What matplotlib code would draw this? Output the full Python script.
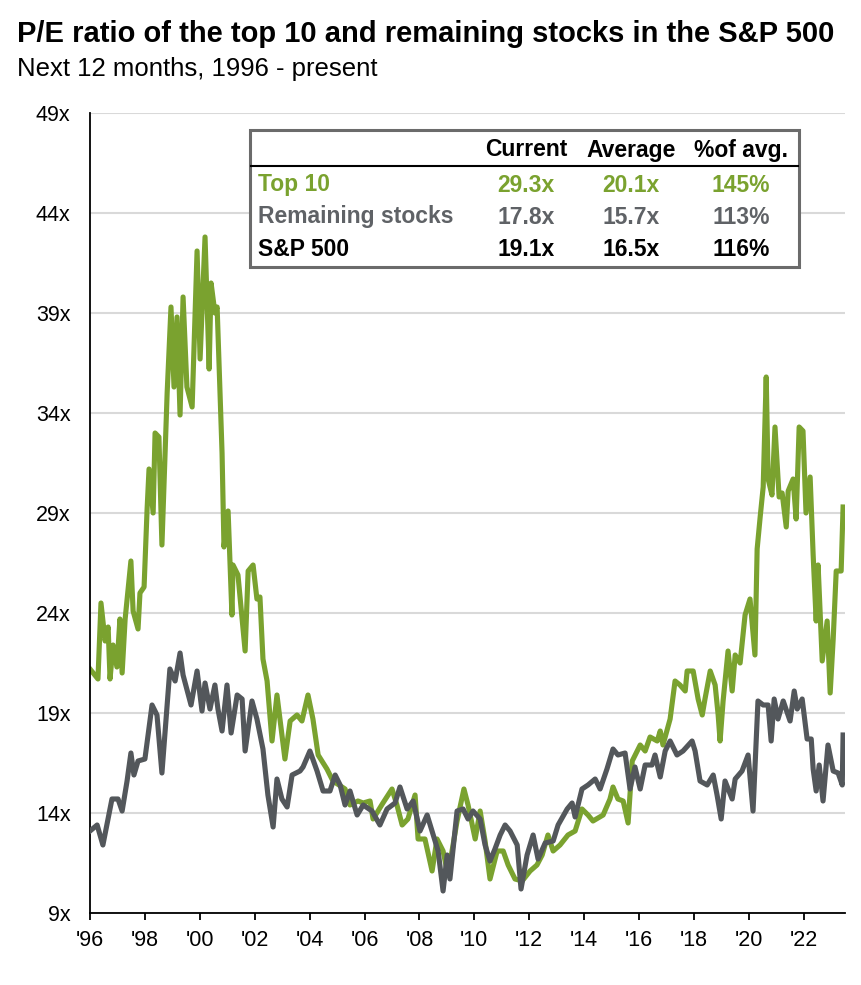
import matplotlib
matplotlib.use("Agg")
import matplotlib.pyplot as plt
from matplotlib.patches import Rectangle
from matplotlib.lines import Line2D

plt.rcParams['font.family'] = ['Liberation Sans', 'DejaVu Sans']

# ---- data -------------------------------------------------------------
top10_dates = [1996.00, 1996.29, 1996.40, 1996.55, 1996.66, 1996.73, 1996.84, 1996.98,
               1997.09, 1997.17, 1997.28, 1997.49, 1997.57, 1997.75, 1997.82, 1997.97,
               1998.08, 1998.15, 1998.30, 1998.37, 1998.51, 1998.62, 1998.81, 1998.95,
               1999.06, 1999.17, 1999.28, 1999.39, 1999.53, 1999.72, 1999.90, 2000.01,
               2000.19, 2000.34, 2000.41, 2000.55, 2000.63, 2000.81, 2000.88, 2001.03,
               2001.17, 2001.21, 2001.39, 2001.65, 2001.76, 2001.94, 2002.08, 2002.19,
               2002.30, 2002.45, 2002.63, 2002.81, 2003.10, 2003.29, 2003.54, 2003.72,
               2003.94, 2004.12, 2004.31, 2004.63, 2004.85, 2005.29, 2005.47, 2005.76,
               2005.95, 2006.20, 2006.31, 2006.67, 2007.00, 2007.18, 2007.37, 2007.58,
               2007.84, 2007.95, 2008.20, 2008.46, 2008.64, 2008.86, 2009.04, 2009.37,
               2009.62, 2009.77, 2010.03, 2010.21, 2010.39, 2010.57, 2010.83, 2011.05,
               2011.23, 2011.48, 2011.74, 2012.03, 2012.28, 2012.47, 2012.68, 2012.87,
               2013.12, 2013.41, 2013.67, 2013.92, 2014.14, 2014.32, 2014.69, 2014.94,
               2015.05, 2015.23, 2015.42, 2015.60, 2015.75, 2016.04, 2016.22, 2016.40,
               2016.66, 2016.77, 2016.87, 2017.13, 2017.31, 2017.49, 2017.68, 2017.75,
               2017.97, 2018.15, 2018.30, 2018.40, 2018.59, 2018.77, 2018.88, 2018.95,
               2019.06, 2019.24, 2019.39, 2019.50, 2019.68, 2019.86, 2020.04, 2020.22,
               2020.30, 2020.41, 2020.52, 2020.63, 2020.70, 2020.84, 2020.95, 2021.10,
               2021.21, 2021.36, 2021.43, 2021.61, 2021.72, 2021.83, 2021.97, 2022.08,
               2022.23, 2022.34, 2022.45, 2022.52, 2022.67, 2022.85, 2022.96, 2023.07,
               2023.18, 2023.36, 2023.43]
top10_pe = [21.2, 20.7, 24.5, 22.6, 23.3, 20.7, 22.4, 21.3,
            23.7, 21.0, 23.7, 26.6, 24.1, 23.2, 25.0, 25.3,
            29.2, 31.2, 29.0, 33.0, 32.8, 27.4, 35.0, 39.3,
            35.3, 38.8, 33.9, 39.8, 35.3, 34.3, 42.1, 36.7,
            42.8, 36.2, 40.5, 39.0, 39.3, 32.0, 27.3, 29.1,
            23.9, 26.4, 25.9, 22.1, 26.1, 26.4, 24.7, 24.8,
            21.7, 20.6, 17.6, 19.9, 16.7, 18.6, 18.9, 18.6,
            19.9, 18.7, 16.9, 16.2, 15.6, 15.2, 14.4, 14.6,
            14.5, 14.6, 13.7, 14.5, 15.2, 14.4, 13.4, 13.7,
            14.9, 12.7, 12.7, 11.1, 12.7, 12.1, 10.9, 13.6,
            15.2, 14.4, 12.7, 14.1, 12.6, 10.7, 12.1, 12.1,
            11.4, 10.7, 10.6, 11.1, 11.4, 11.9, 12.9, 12.1,
            12.4, 12.9, 13.1, 14.2, 13.9, 13.6, 13.9, 14.7,
            15.3, 14.7, 14.6, 13.5, 16.6, 17.4, 17.1, 17.8,
            17.6, 18.1, 17.4, 18.7, 20.6, 20.4, 20.1, 21.1,
            21.1, 19.7, 18.9, 19.7, 21.1, 20.4, 18.9, 17.6,
            19.6, 22.1, 20.1, 21.9, 21.5, 23.9, 24.7, 21.9,
            27.2, 28.8, 30.3, 35.8, 30.7, 29.9, 33.3, 29.8,
            30.0, 28.3, 30.1, 30.7, 28.7, 33.3, 33.1, 29.0,
            30.8, 26.9, 23.6, 26.4, 21.6, 23.6, 20.0, 22.7,
            26.1, 26.1, 29.3]

rest_dates = [1996.00, 1996.26, 1996.47, 1996.80, 1997.02, 1997.17, 1997.35, 1997.49,
              1997.60, 1997.75, 1998.00, 1998.26, 1998.44, 1998.62, 1998.91, 1999.10,
              1999.28, 1999.39, 1999.68, 1999.90, 2000.08, 2000.19, 2000.37, 2000.55,
              2000.66, 2000.81, 2000.99, 2001.14, 2001.36, 2001.54, 2001.65, 2001.90,
              2002.08, 2002.30, 2002.48, 2002.67, 2002.81, 2002.99, 2003.18, 2003.36,
              2003.65, 2003.76, 2004.01, 2004.27, 2004.49, 2004.74, 2004.93, 2005.11,
              2005.29, 2005.47, 2005.73, 2005.95, 2006.27, 2006.56, 2006.82, 2007.11,
              2007.29, 2007.55, 2007.77, 2008.02, 2008.28, 2008.50, 2008.68, 2008.86,
              2009.01, 2009.11, 2009.37, 2009.59, 2009.77, 2009.95, 2010.21, 2010.39,
              2010.57, 2010.75, 2010.94, 2011.12, 2011.30, 2011.56, 2011.70, 2011.92,
              2012.14, 2012.32, 2012.58, 2012.87, 2013.05, 2013.38, 2013.56, 2013.67,
              2013.92, 2014.14, 2014.40, 2014.58, 2014.83, 2015.05, 2015.23, 2015.49,
              2015.67, 2015.85, 2016.04, 2016.22, 2016.47, 2016.58, 2016.77, 2016.95,
              2017.13, 2017.38, 2017.60, 2017.93, 2018.04, 2018.22, 2018.48, 2018.70,
              2018.84, 2018.99, 2019.13, 2019.39, 2019.50, 2019.75, 2019.97, 2020.15,
              2020.33, 2020.52, 2020.70, 2020.81, 2020.92, 2021.06, 2021.25, 2021.50,
              2021.65, 2021.76, 2021.94, 2022.12, 2022.27, 2022.34, 2022.45, 2022.56,
              2022.70, 2022.88, 2023.07, 2023.25, 2023.40, 2023.43]
rest_pe = [13.1, 13.4, 12.4, 14.7, 14.7, 14.1, 15.6, 17.0,
           15.9, 16.6, 16.7, 19.4, 18.9, 16.0, 21.2, 20.6,
           22.0, 20.9, 19.4, 21.1, 19.1, 20.5, 19.2, 20.4,
           19.2, 18.1, 20.4, 18.0, 19.9, 19.7, 17.1, 19.6,
           18.7, 17.2, 14.9, 13.3, 15.7, 14.7, 14.3, 15.9,
           16.1, 16.3, 17.1, 16.1, 15.1, 15.1, 15.9, 15.4,
           14.4, 15.1, 13.9, 14.4, 14.1, 13.4, 14.2, 14.5,
           15.3, 14.2, 14.6, 13.1, 13.9, 12.9, 12.1, 10.1,
           11.9, 10.7, 14.1, 14.2, 13.7, 14.1, 13.7, 12.4,
           11.6, 12.2, 12.9, 13.4, 13.1, 12.4, 10.2, 11.9,
           12.9, 11.7, 12.5, 12.6, 13.4, 14.2, 14.5, 13.8,
           15.2, 15.4, 15.7, 15.2, 16.2, 17.2, 16.9, 17.0,
           15.2, 16.3, 15.2, 16.4, 16.4, 16.9, 15.8, 17.1,
           17.6, 16.9, 17.1, 17.6, 17.1, 15.6, 15.4, 15.9,
           14.9, 13.7, 15.6, 14.7, 15.7, 16.1, 16.9, 14.1,
           19.6, 19.4, 19.4, 17.6, 19.7, 18.7, 19.6, 18.6,
           20.1, 19.2, 19.7, 17.7, 17.7, 16.2, 15.1, 16.4,
           14.6, 17.4, 16.1, 16.0, 15.4, 17.9]

y_ticks = [9, 14, 19, 24, 29, 34, 39, 44, 49]
x_ticks = list(range(1996, 2023, 2))
x_tick_labels = ["'96", "'98", "'00", "'02", "'04", "'06", "'08", "'10",
                 "'12", "'14", "'16", "'18", "'20", "'22"]

table_cols = ["Current", "Average", "%of avg."]
table_rows = ["Top 10", "Remaining stocks", "S&P 500"]
table_vals = [["29.3x", "20.1x", "145%"],
              ["17.8x", "15.7x", "113%"],
              ["19.1x", "16.5x", "116%"]]

GREEN = "#7aa22f"
GRAY = "#53575b"
ROW_COLORS = [GREEN, "#5f6266", "#000000"]

# ---- figure -----------------------------------------------------------
W, H = 861, 985
fig = plt.figure(figsize=(W / 100, H / 100), dpi=100)

def fx(px):
    return px / W

def fy(py):
    return 1 - py / H

ax = fig.add_axes([fx(90), fy(913), (845 - 90) / W, (913 - 113) / H])

ax.plot(rest_dates, rest_pe, color=GRAY, lw=3.7, solid_joinstyle='round', zorder=3)
ax.plot(top10_dates, top10_pe, color=GREEN, lw=3.7, solid_joinstyle='round', zorder=2)

ax.set_xlim(1996, 2023.5)
ax.set_ylim(9, 49)
ax.set_yticks(y_ticks)
ax.set_yticklabels([f"{v}x" for v in y_ticks])
ax.set_xticks(x_ticks)
ax.set_xticklabels(x_tick_labels)
ax.grid(axis='y', color='#d9d9d9', lw=1.5, zorder=0)
ax.set_axisbelow(True)
for s in ['top', 'right']:
    ax.spines[s].set_visible(False)
for s in ['left', 'bottom']:
    ax.spines[s].set_linewidth(1.3)
    ax.spines[s].set_color('black')
ax.tick_params(axis='y', length=0, pad=14, labelsize=15.5)
ax.tick_params(axis='x', length=5, width=1.3, direction='out', pad=7, labelsize=15.5)

# ---- titles -----------------------------------------------------------
fig.text(fx(17), fy(42), "P/E ratio of the top 10 and remaining stocks in the S&P 500",
         fontsize=21, fontweight='bold', va='baseline', ha='left')
fig.text(fx(17), fy(76), "Next 12 months, 1996 - present",
         fontsize=18.5, va='baseline', ha='left')

# ---- table ------------------------------------------------------------
box = Rectangle((fx(250), fy(267)), (799 - 250) / W, (267 - 130) / H,
                transform=fig.transFigure, facecolor='white', edgecolor='#6b6b6b',
                lw=2.2, zorder=5)
fig.add_artist(box)
fig.add_artist(Line2D([fx(251), fx(798)], [fy(166), fy(166)], transform=fig.transFigure,
                      color='black', lw=1.5, zorder=6))

col_x = [526, 631, 741]
row_y = [185, 217, 249]
for cx, name in zip(col_x, table_cols):
    fig.text(fx(cx), fy(150), name, fontsize=16.5, fontweight='bold',
             ha='center', va='center', zorder=7)
for ry, rname, vals, c in zip(row_y, table_rows, table_vals, ROW_COLORS):
    fig.text(fx(258), fy(ry), rname, fontsize=16.5, fontweight='bold', color=c,
             ha='left', va='center', zorder=7)
    for cx, v in zip(col_x, vals):
        fig.text(fx(cx), fy(ry), v, fontsize=16.5, fontweight='bold', color=c,
                 ha='center', va='center', zorder=7)

fig.savefig("out.png", dpi=100, facecolor='white')
